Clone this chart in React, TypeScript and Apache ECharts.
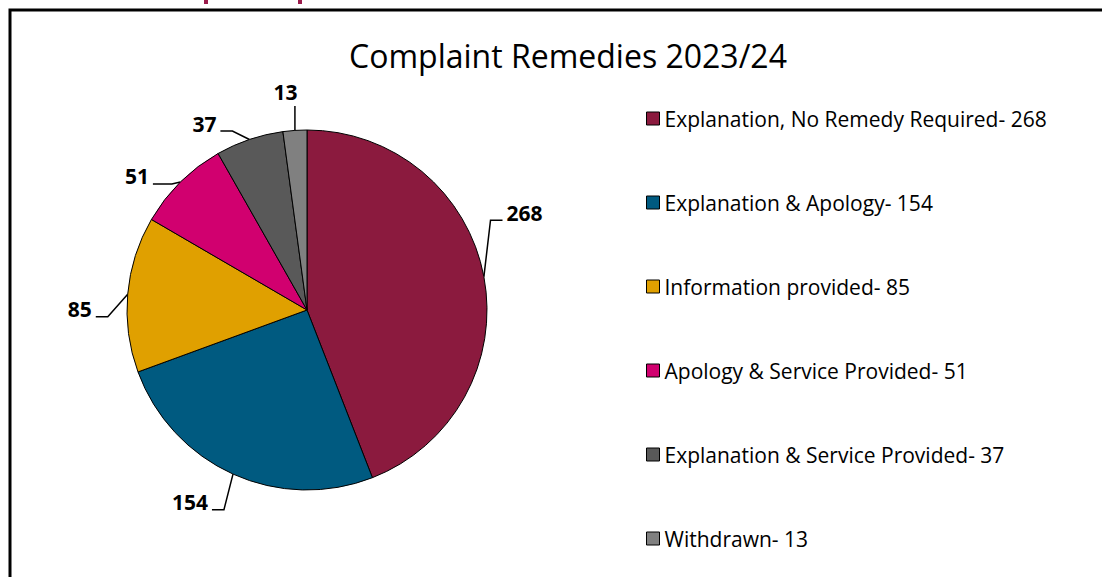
import React, { useEffect, useRef } from "react";
import * as echarts from "echarts";

const categories = [
  "Explanation, No Remedy Required",
  "Explanation & Apology",
  "Information provided",
  "Apology & Service Provided",
  "Explanation & Service Provided",
  "Withdrawn",
];
const values = [268, 154, 85, 51, 37, 13];
const colors = ["#8B1A3E", "#005A80", "#E0A000", "#D1006F", "#595959", "#808080"];
const title = "Complaint Remedies 2023/24";
// label nudges (pixels) to mimic the original leader-line placement
const labelNudgeX = [-18, 3, 5, 3, -7, 23];
const labelNudgeY = [-60, 8, 17, 10, 5, -16];
const leaderKind = ["side", "side", "side", "side", "side", "vertical"];
const leaderFoot = [12, 12, 12, 19, 12, 0];

export default function App() {
  const ref = useRef<HTMLDivElement>(null);
  useEffect(() => {
    if (!ref.current) return;
    const chart = echarts.init(ref.current, undefined, { renderer: "svg" });
    const font = "Open Sans, Liberation Sans, sans-serif";
    const cx = 307;
    chart.setOption({
      animation: false,
      backgroundColor: "#ffffff",
      title: {
        text: title,
        left: 563,
        top: 34,
        textAlign: "center",
        textStyle: { fontFamily: font, fontSize: 32, fontWeight: "normal", color: "#000" },
      },
      legend: {
        orient: "vertical",
        left: 641,
        top: 103,
        itemGap: 63,
        itemWidth: 13,
        itemHeight: 13,
        icon: "rect",
        itemStyle: { borderColor: "#000", borderWidth: 1 },
        textStyle: { fontFamily: font, fontSize: 21, color: "#000" },
        formatter: (name: string) => {
          const i = categories.indexOf(name);
          return `${name}- ${values[i]}`;
        },
        data: categories,
      },
      graphic: [
        {
          type: "rect",
          shape: { x: 10, y: 10, width: 1100, height: 600 },
          style: { fill: "none", stroke: "#000", lineWidth: 3 },
          silent: true,
        },
        { type: "rect", shape: { x: 204, y: 0, width: 4, height: 4 }, style: { fill: "#9B1B4B" } },
        { type: "rect", shape: { x: 298, y: 0, width: 4, height: 4 }, style: { fill: "#9B1B4B" } },
      ],
      series: [
        {
          type: "pie",
          center: [cx, 310],
          radius: 180,
          startAngle: 90,
          clockwise: true,
          avoidLabelOverlap: false,
          itemStyle: { borderColor: "#000", borderWidth: 1 },
          label: {
            show: true,
            position: "outside",
            formatter: "{c}",
            fontFamily: font,
            fontSize: 21,
            fontWeight: "bold",
            color: "#000",
          },
          labelLine: {
            show: true,
            length: 22,
            length2: 14,
            lineStyle: { color: "#000", width: 1.5 },
          },
          labelLayout: (p: any) => {
            const i = p.dataIndex;
            const dx = labelNudgeX[i];
            const dy = labelNudgeY[i];
            const r = p.labelRect;
            const nx = r.x + dx;
            const ny = r.y + dy;
            const pts = p.labelLinePoints;
            const p0 = pts ? pts[0] : [cx, 310];
            const base = ny + r.height - 3;
            let p1: number[];
            let p2: number[];
            if (leaderKind[i] === "vertical") {
              p2 = [p0[0], ny + r.height + 3];
              p1 = [p0[0], (p0[1] + p2[1]) / 2];
            } else if (nx + r.width / 2 > cx) {
              p2 = [nx - 4, base];
              p1 = [p2[0] - leaderFoot[i], base];
            } else {
              p2 = [nx + r.width + 4, base];
              p1 = [p2[0] + leaderFoot[i], base];
            }
            return { dx, dy, labelLinePoints: [p0, p1, p2] };
          },
          data: categories.map((c, i) => ({
            name: c,
            value: values[i],
            itemStyle: { color: colors[i] },
          })),
        },
      ],
    });
    return () => chart.dispose();
  }, []);
  return (
    <div
      ref={ref}
      style={{ position: "absolute", left: 0, top: 0, width: 1102, height: 577 }}
    />
  );
}
